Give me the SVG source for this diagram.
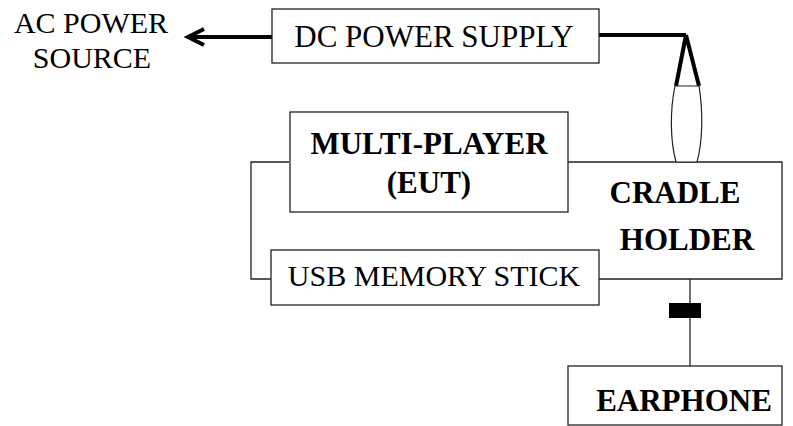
<svg xmlns="http://www.w3.org/2000/svg" width="793" height="426" viewBox="0 0 793 426">
  <style>
    .box { fill: #fff; stroke: #222; stroke-width: 1.3; }
    .wire { fill: none; stroke: #222; stroke-width: 1.3; }
    .cord { fill: none; stroke: #000; stroke-width: 4; stroke-linejoin: miter; }
    .t { font-family: "Liberation Serif", "Times New Roman", serif; font-size: 30px; fill: #000; text-anchor: middle; }
    .b { font-weight: bold; font-size: 31px; }
  </style>
  <rect width="793" height="426" fill="#fff"/>

  <!-- connectors -->
  <g id="connectors">
    <!-- cradle holder outline around the player and memory stick -->
    <path class="wire" d="M289,162 H251 V279 H271"/>
    <path class="wire" d="M568,162 H782 V279 H599"/>
    <!-- DC supply to AC source -->
    <path class="cord" d="M272,37 H188"/>
    <path class="cord" d="M204,29 L188,37 L204,45"/>
    <!-- DC supply to plug -->
    <path class="cord" d="M599,35 H686 M686,35 L676,86 M686,35 L699,86"/>
    <path d="M675,86 H699 C703,110 703,140 697,162 H676 C670,140 670,110 675,86 Z" fill="#fff" stroke="#222" stroke-width="1.2"/>
    <!-- earphone lead -->
    <path class="wire" d="M690,279 V366"/>
    <rect x="669" y="303" width="32" height="15" fill="#000"/>
  </g>

  <g id="ac-source">
    <text class="t" x="91" y="33">AC POWER</text>
    <text class="t" x="92" y="68">SOURCE</text>
  </g>

  <g id="dc-supply">
    <rect class="box" x="272" y="9" width="327" height="54"/>
    <text class="t" x="434" y="47" style="font-size:31px">DC POWER SUPPLY</text>
  </g>

  <g id="multi-player">
    <rect class="box" x="290" y="112" width="278" height="100"/>
    <text class="t b" x="429" y="154">MULTI-PLAYER</text>
    <text class="t b" x="429" y="193">(EUT)</text>
  </g>

  <g id="cradle-holder">
    <text class="t b" x="675" y="203">CRADLE</text>
    <text class="t b" x="687" y="250">HOLDER</text>
  </g>

  <g id="usb-stick">
    <rect class="box" x="271" y="250" width="328" height="55"/>
    <text class="t" x="434" y="286">USB MEMORY STICK</text>
  </g>

  <g id="earphone">
    <rect class="box" x="568" y="366" width="214" height="59"/>
    <text class="t b" x="684" y="411">EARPHONE</text>
  </g>
</svg>
